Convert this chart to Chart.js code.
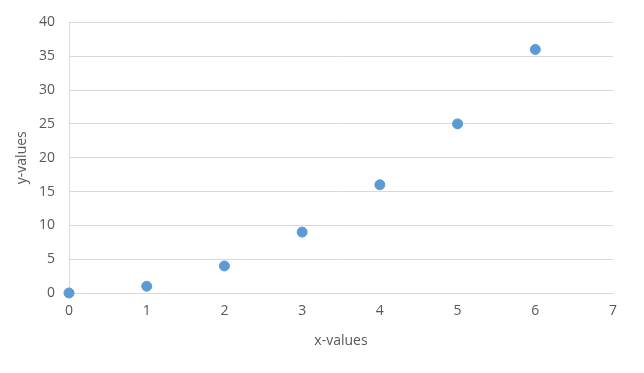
<!DOCTYPE html>
<html>
<head>
<meta charset="utf-8">
<script src="https://cdn.jsdelivr.net/npm/chart.js@4"></script>
<style>
  html, body { margin: 0; padding: 0; background: #fff; }
  #wrap { width: 644px; height: 373px; }
</style>
</head>
<body>
<div id="wrap"><canvas id="grafico" width="644" height="373"></canvas></div>
<script>
// dados
const xValores = [0, 1, 2, 3, 4, 5, 6];
const yValores = [0, 1, 4, 9, 16, 25, 36];

const pontos = xValores.map((x, i) => ({ x: x, y: yValores[i] }));

const corTexto = '#595959';
const corGrade = '#d9d9d9';
const fonte = "'Open Sans', 'Noto Sans', sans-serif";

new Chart(document.getElementById('grafico'), {
  type: 'scatter',
  data: {
    datasets: [{
      label: 'y-values',
      data: pontos,
      backgroundColor: '#5b9bd5',
      borderColor: '#5b9bd5',
      pointRadius: 5,
      pointHoverRadius: 5,
      clip: false
    }]
  },
  options: {
    responsive: false,
    animation: false,
    layout: { padding: { left: 10, right: 31, top: 22, bottom: 20 } },
    plugins: {
      legend: { display: false },
      tooltip: { enabled: false }
    },
    scales: {
      x: {
        type: 'linear',
        min: 0,
        max: 7,
        ticks: { stepSize: 1, color: corTexto, font: { family: fonte, size: 14 }, padding: 10 },
        grid: { display: false, drawTicks: false },
        border: { color: corGrade, width: 1 },
        title: { display: true, text: 'x-values', color: corTexto, font: { family: fonte, size: 14 }, padding: { top: 8 } },
        afterFit: (s) => { s.height = 60; }
      },
      y: {
        min: 0,
        max: 40,
        ticks: { stepSize: 5, color: corTexto, font: { family: fonte, size: 14 }, padding: 14 },
        grid: { color: corGrade, drawTicks: false },
        border: { color: corGrade, width: 1 },
        title: { display: true, text: 'y-values', color: corTexto, font: { family: fonte, size: 14 }, padding: { bottom: 4 } },
        afterFit: (s) => { s.width = 59; }
      }
    }
  }
});
</script>
</body>
</html>
